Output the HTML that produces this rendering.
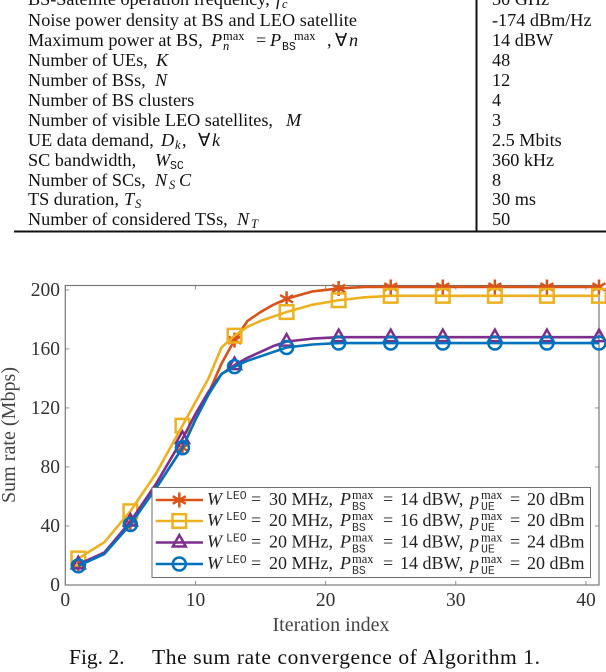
<!DOCTYPE html>
<html lang="en">
<head>
<meta charset="utf-8">
<title>Sum rate convergence</title>
<style>
html,body{margin:0;padding:0;background:#fff;width:606px;height:672px;overflow:hidden}
svg{display:block}
text{font-family:"Liberation Serif",serif;fill:#111}
.t{font-size:18.2px}
.i{font-style:italic}
.ss{font-size:12.5px}
.m{font-family:"Liberation Mono",monospace;font-size:11.5px}
.tick{font-size:19.5px;fill:#333}
.lab{font-size:20px;fill:#444}
.lg{font-size:18px;fill:#222}
.lgs{font-size:12.5px;fill:#222}
.lgm{font-family:"Liberation Mono",monospace;font-size:11.5px;fill:#333}
</style>
</head>
<body>
<svg id="fig" width="606" height="672" viewBox="0 0 606 672" xmlns="http://www.w3.org/2000/svg">
<rect x="0" y="0" width="606" height="672" fill="#fff"/>

<g>
  <text class="t" y="5"><tspan x="28">BS-Satellite operation frequency,</tspan><tspan x="276" class="i">f</tspan><tspan x="282" dy="3" class="ss i">c</tspan></text>
  <text class="t" x="492" y="5">30 GHz</text>

  <text class="t" x="28" y="26" textLength="329">Noise power density at BS and LEO satellite</text>
  <text class="t" x="492" y="26">-174 dBm/Hz</text>

  <text class="t" y="46"><tspan x="28">Maximum power at BS,</tspan><tspan x="211" class="i">P</tspan><tspan x="223" dy="-6" class="ss">max</tspan><tspan x="223" dy="10" class="ss i">n</tspan><tspan x="256" dy="-4">=</tspan><tspan x="270" class="i">P</tspan><tspan x="294" dy="-6" class="ss">max</tspan><tspan x="282" dy="10" class="m">BS</tspan><tspan x="327" dy="-4">,</tspan><tspan x="335">∀</tspan><tspan x="349" class="i">n</tspan></text>
  <text class="t" x="492" y="46">14 dBW</text>

  <text class="t" y="66"><tspan x="28">Number of UEs,</tspan><tspan x="156" class="i">K</tspan></text>
  <text class="t" x="492" y="66">48</text>

  <text class="t" y="86"><tspan x="28">Number of BSs,</tspan><tspan x="155" class="i">N</tspan></text>
  <text class="t" x="492" y="86">12</text>

  <text class="t" x="28" y="106">Number of BS clusters</text>
  <text class="t" x="492" y="106">4</text>

  <text class="t" y="126"><tspan x="28">Number of visible LEO satellites,</tspan><tspan x="286" class="i">M</tspan></text>
  <text class="t" x="492" y="126">3</text>

  <text class="t" y="146"><tspan x="28">UE data demand,</tspan><tspan x="161" class="i">D</tspan><tspan x="175" dy="3" class="ss i">k</tspan><tspan x="182" dy="-3">,</tspan><tspan x="198">∀</tspan><tspan x="212" class="i">k</tspan></text>
  <text class="t" x="492" y="146">2.5 Mbits</text>

  <text class="t" y="166"><tspan x="28">SC bandwidth,</tspan><tspan x="155" class="i">W</tspan><tspan x="170" dy="3" class="m">SC</tspan></text>
  <text class="t" x="492" y="166">360 kHz</text>

  <text class="t" y="186"><tspan x="28">Number of SCs,</tspan><tspan x="155" class="i">N</tspan><tspan x="169" dy="3" class="ss i">S</tspan><tspan x="179" dy="-3" class="i">C</tspan></text>
  <text class="t" x="492" y="186">8</text>

  <text class="t" y="205"><tspan x="28">TS duration,</tspan><tspan x="124" class="i">T</tspan><tspan x="135" dy="3" class="ss i">S</tspan></text>
  <text class="t" x="492" y="205">30 ms</text>

  <text class="t" y="225"><tspan x="28">Number of considered TSs,</tspan><tspan x="237" class="i">N</tspan><tspan x="251" dy="3" class="ss i">T</tspan></text>
  <text class="t" x="492" y="225">50</text>

  <line x1="476.5" y1="0" x2="476.5" y2="231" stroke="#111" stroke-width="2"/>
  <line x1="14" y1="231.5" x2="606" y2="231.5" stroke="#111" stroke-width="2"/>
</g>

<g id="axes"></g>
<g id="series"></g>

<g>
  <rect x="152" y="487.5" width="438.5" height="90" fill="#fff" stroke="#6e6e6e" stroke-width="1"/>
  <g id="legend-keys"></g>
  <g transform="translate(0,505)">
    <text class="lg"><tspan x="207" class="i">W</tspan><tspan x="226" dy="-6" class="lgm">LEO</tspan><tspan x="251" dy="6">=</tspan><tspan x="269">30 MHz,</tspan><tspan x="340" class="i">P</tspan><tspan x="352" dy="-6" class="lgs">max</tspan><tspan x="352" dy="11" class="lgm">BS</tspan><tspan x="383" dy="-5">=</tspan><tspan x="400">14 dBW,</tspan><tspan x="470" class="i">p</tspan><tspan x="481" dy="-6" class="lgs">max</tspan><tspan x="481" dy="11" class="lgm">UE</tspan><tspan x="510" dy="-5">=</tspan><tspan x="527">20 dBm</tspan></text>
  </g>
  <g transform="translate(0,526)">
    <text class="lg"><tspan x="207" class="i">W</tspan><tspan x="226" dy="-6" class="lgm">LEO</tspan><tspan x="251" dy="6">=</tspan><tspan x="269">20 MHz,</tspan><tspan x="340" class="i">P</tspan><tspan x="352" dy="-6" class="lgs">max</tspan><tspan x="352" dy="11" class="lgm">BS</tspan><tspan x="383" dy="-5">=</tspan><tspan x="400">16 dBW,</tspan><tspan x="470" class="i">p</tspan><tspan x="481" dy="-6" class="lgs">max</tspan><tspan x="481" dy="11" class="lgm">UE</tspan><tspan x="510" dy="-5">=</tspan><tspan x="527">20 dBm</tspan></text>
  </g>
  <g transform="translate(0,547.5)">
    <text class="lg"><tspan x="207" class="i">W</tspan><tspan x="226" dy="-6" class="lgm">LEO</tspan><tspan x="251" dy="6">=</tspan><tspan x="269">20 MHz,</tspan><tspan x="340" class="i">P</tspan><tspan x="352" dy="-6" class="lgs">max</tspan><tspan x="352" dy="11" class="lgm">BS</tspan><tspan x="383" dy="-5">=</tspan><tspan x="400">14 dBW,</tspan><tspan x="470" class="i">p</tspan><tspan x="481" dy="-6" class="lgs">max</tspan><tspan x="481" dy="11" class="lgm">UE</tspan><tspan x="510" dy="-5">=</tspan><tspan x="527">24 dBm</tspan></text>
  </g>
  <g transform="translate(0,569)">
    <text class="lg"><tspan x="207" class="i">W</tspan><tspan x="226" dy="-6" class="lgm">LEO</tspan><tspan x="251" dy="6">=</tspan><tspan x="269">20 MHz,</tspan><tspan x="340" class="i">P</tspan><tspan x="352" dy="-6" class="lgs">max</tspan><tspan x="352" dy="11" class="lgm">BS</tspan><tspan x="383" dy="-5">=</tspan><tspan x="400">14 dBW,</tspan><tspan x="470" class="i">p</tspan><tspan x="481" dy="-6" class="lgs">max</tspan><tspan x="481" dy="11" class="lgm">UE</tspan><tspan x="510" dy="-5">=</tspan><tspan x="527">20 dBm</tspan></text>
  </g>
</g>

<text class="lab" x="331" y="631" text-anchor="middle" textLength="117">Iteration index</text>
<text class="lab" transform="translate(15,435) rotate(-90)" text-anchor="middle" textLength="136">Sum rate (Mbps)</text>
<text y="664" style="font-size:21.5px"><tspan x="69">Fig. 2.</tspan><tspan x="152" textLength="388">The sum rate convergence of Algorithm 1.</tspan></text>
</svg>

<script>
var iterations = [1,3,5,7,9,10,11,12,13,14,15,16,17,19,21,23,25,29,33,37,41];
var seriesRed = [13,22,42,66,93,112,130,150,166,179,185,190,194,199,201,202,202,202,202,202,202];
var seriesYellow = [18,29,50,76,108,124,140,161,169,175,179,182,185,190,193,195,196,196,196,196,196];
var seriesPurple = [14,22,43,69,99,116,131,143,149,154,158,162,165,167,168,168,168,168,168,168,168];
var seriesBlue = [13,21,41,66,93,112,129,143,148,152,155,158,161,163,164,164,164,164,164,164,164];
var markerIterations = [1,5,9,13,17,21,25,29,33,37,41];
var xTickValues = [0,10,20,30,40];
var yTickValues = [0,40,80,120,160,200];
var xDomain = [0,41];
var yDomain = [0,203];

var NS = 'http://www.w3.org/2000/svg';
var plot = {left:65.3, right:599, top:285.5, bottom:585};
function xScale(v){return plot.left + (v - xDomain[0]) / (xDomain[1] - xDomain[0]) * (plot.right - plot.left);}
function yScale(v){return plot.bottom - (v - yDomain[0]) / (yDomain[1] - yDomain[0]) * (plot.bottom - plot.top);}
function make(tag, attrs, parent){
  var el = document.createElementNS(NS, tag);
  for (var k in attrs) el.setAttribute(k, attrs[k]);
  parent.appendChild(el);
  return el;
}
var axes = document.getElementById('axes');
var seriesLayer = document.getElementById('series');
var keys = document.getElementById('legend-keys');
var axisColor = '#777';

var frame = make('rect', {x:plot.left, y:plot.top, width:plot.right-plot.left, height:plot.bottom-plot.top, fill:'none', stroke:axisColor, 'stroke-width':1.2}, axes);



xTickValues.forEach(function(v){
  var x = xScale(v);
  var t1 = make('line', {x1:x, x2:x, y1:plot.bottom, y2:plot.bottom-4, stroke:axisColor, 'stroke-width':0.8}, axes);
  
  
  var t2 = make('line', {x1:x, x2:x, y1:plot.top, y2:plot.top+4, stroke:axisColor, 'stroke-width':0.8}, axes);
  
  
  var lab = make('text', {x:x, y:606, 'text-anchor':'middle', 'class':'tick'}, axes);
  
  
  lab.textContent = String(v);
});
yTickValues.forEach(function(v){
  var y = yScale(v);
  var t1 = make('line', {x1:plot.left, x2:plot.left+4, y1:y, y2:y, stroke:axisColor, 'stroke-width':0.8}, axes);
  
  
  var t2 = make('line', {x1:plot.right, x2:plot.right-4, y1:y, y2:y, stroke:axisColor, 'stroke-width':0.8}, axes);
  
  
  var lab = make('text', {x:60, y:y+6, 'text-anchor':'end', 'class':'tick'}, axes);
  
  
  lab.textContent = String(v);
});

function drawMarker(shape, cx, cy, color, parent){
  var g = make('g', {fill:'none', stroke:color, 'stroke-width':2.5}, parent);
  if (shape === 'star') {
    var r = 7.5;
    for (var a = 0; a < 3; a++) {
      var ang = (90 + a * 60) * Math.PI / 180;
      make('line', {x1:cx - r*Math.cos(ang), y1:cy - r*Math.sin(ang), x2:cx + r*Math.cos(ang), y2:cy + r*Math.sin(ang)}, g);
    }
  } else if (shape === 'square') {
    make('rect', {x:cx-6.8, y:cy-6.8, width:13.6, height:13.6}, g);
  } else if (shape === 'triangle') {
    make('polygon', {points:(cx)+','+(cy-7.5)+' '+(cx+6.5)+','+(cy+4)+' '+(cx-6.5)+','+(cy+4)}, g);
  } else {
    make('circle', {cx:cx, cy:cy, r:6.5}, g);
  }
  return g;
}

var seriesList = [
  {id:'red', values:seriesRed, color:'#D95319', shape:'star', keyY:500},
  {id:'yellow', values:seriesYellow, color:'#EDB120', shape:'square', keyY:521},
  {id:'purple', values:seriesPurple, color:'#7E2F8E', shape:'triangle', keyY:542.5},
  {id:'blue', values:seriesBlue, color:'#0072BD', shape:'circle', keyY:564}
];
seriesList.forEach(function(s){
  var pts = iterations.map(function(it, i){return xScale(it).toFixed(2) + ',' + yScale(s.values[i]).toFixed(2);}).join(' ');
  var line = make('polyline', {points:pts, fill:'none', stroke:s.color, 'stroke-width':2.6, 'stroke-linejoin':'round'}, seriesLayer);
  
  
  markerIterations.forEach(function(it){
    var idx = iterations.indexOf(it);
    var m = drawMarker(s.shape, xScale(it), yScale(s.values[idx]), s.color, seriesLayer);
    
    
  });
  var kl = make('line', {x1:155.7, x2:203, y1:s.keyY, y2:s.keyY, stroke:s.color, 'stroke-width':2.4}, keys);
  
  
  var km = drawMarker(s.shape, 179.3, s.keyY, s.color, keys);
  
  
});
</script>
</body>
</html>
